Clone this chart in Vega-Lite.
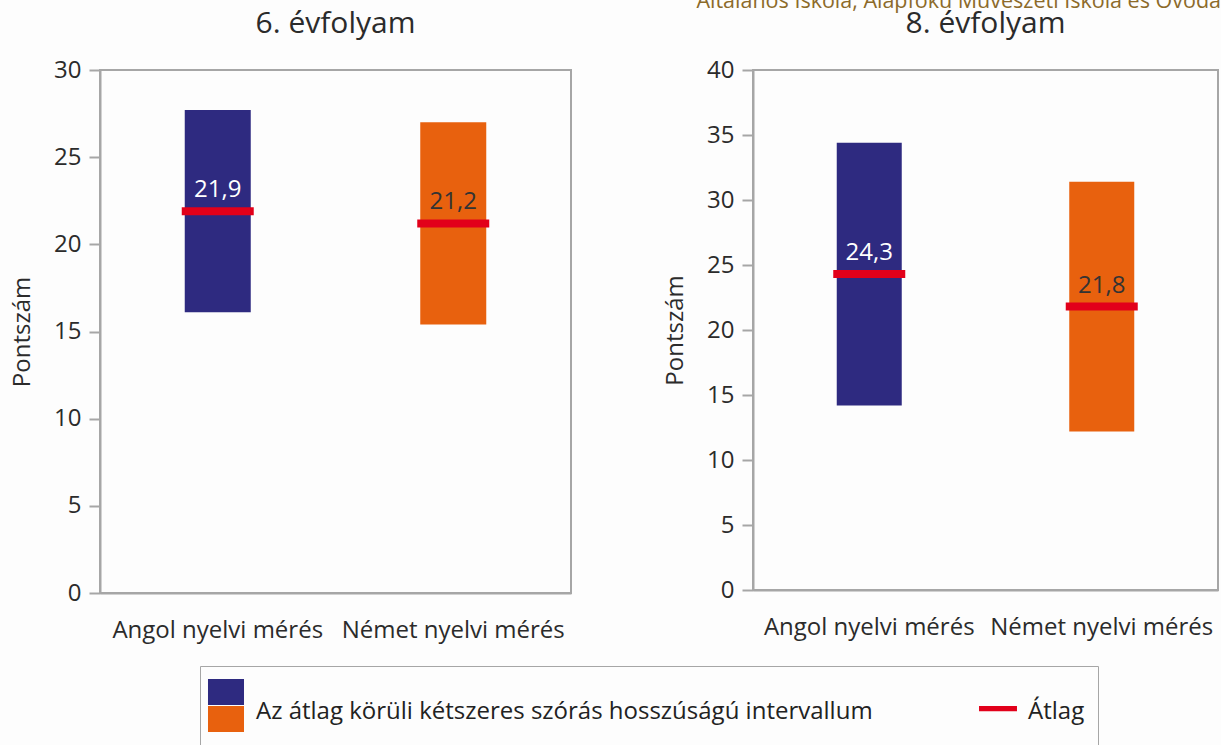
{
  "$schema": "https://vega.github.io/schema/vega-lite/v6.json",
  "background": "#fdfdfd",
  "padding": {"left": 9, "top": -10, "right": 0, "bottom": 0},
  "bounds": "flush",
  "spacing": 182,
  "title": {
    "text": "Általános Iskola, Alapfokú Művészeti Iskola és Óvoda",
    "anchor": "end",
    "fontSize": 21.5,
    "dx": 2,
    "color": "#8c6a2a",
    "offset": -4
  },
  "datasets": {
    "g6": [
      {"lang": "Angol nyelvi mérés", "low": 16.1, "high": 27.7, "mean": 21.9},
      {"lang": "Német nyelvi mérés", "low": 15.4, "high": 27.0, "mean": 21.2}
    ],
    "g8": [
      {"lang": "Angol nyelvi mérés", "low": 14.2, "high": 34.4, "mean": 24.3},
      {"lang": "Német nyelvi mérés", "low": 12.2, "high": 31.4, "mean": 21.8}
    ]
  },
  "hconcat": [
    {
      "width": 471,
      "height": 523,
      "title": {"text": "6. évfolyam"},
      "data": {"name": "g6"},
      "encoding": {
        "x": {"field": "lang", "type": "nominal", "title": null,
              "scale": {"domain": ["Angol nyelvi mérés", "Német nyelvi mérés"]}}
      },
      "layer": [
        {
          "mark": {"type": "bar", "size": 66},
          "encoding": {
            "y": {"field": "low", "type": "quantitative", "title": "Pontszám",
                  "scale": {"domain": [0, 30]}, "axis": {"values": [0, 5, 10, 15, 20, 25, 30]}},
            "y2": {"field": "high"},
            "color": {
              "field": "lang", "type": "nominal",
              "scale": {"domain": ["Angol nyelvi mérés", "Német nyelvi mérés", "_", "Átlag"],
                        "range": ["#2e2a80", "#e8610e", "transparent", "#e2001a"]},
              "legend": {
                "orient": "none", "legendX": 100, "legendY": 596, "title": null,
                "columns": 2, "rowPadding": -5, "columnPadding": 106,
                "symbolType": {"expr": "datum.value === 'Átlag' ? 'M-1.46,-1H1.46V-0.6H-1.46Z' : 'M-1.385,-1H1.385V1H-1.385Z'"},
                "symbolSize": 676, "symbolStrokeWidth": 0, "symbolOpacity": 1,
                "labelFontSize": 24, "labelColor": "#222222", "labelLimit": 1000, "labelOffset": 17,
                "labelBaseline": "alphabetic",
                "labelExpr": "datum.value === 'Német nyelvi mérés' ? 'Az átlag körüli kétszeres szórás hosszúságú intervallum' : datum.value === 'Átlag' ? 'Átlag' : ''",
                "strokeColor": "#a6a6a6", "padding": 13, "fillColor": "#fdfdfd"
              }
            }
          }
        },
        {
          "mark": {"type": "tick", "thickness": 8, "size": 72, "opacity": 1},
          "encoding": {
            "y": {"field": "mean", "type": "quantitative", "title": "Pontszám"},
            "color": {"datum": "Átlag"}
          }
        },
        {
          "mark": {"type": "text", "baseline": "alphabetic", "dy": -14, "fontSize": 24},
          "encoding": {
            "y": {"field": "mean", "type": "quantitative", "title": "Pontszám"},
            "text": {"field": "mean", "type": "quantitative", "format": ".1f"},
            "color": {"condition": {"test": "datum.lang === 'Angol nyelvi mérés'", "value": "#ffffff"}, "value": "#333333"}
          }
        }
      ]
    },
    {
      "width": 465,
      "height": 520,
      "title": {"text": "8. évfolyam"},
      "data": {"name": "g8"},
      "encoding": {
        "x": {"field": "lang", "type": "nominal", "title": null,
              "scale": {"domain": ["Angol nyelvi mérés", "Német nyelvi mérés"]}}
      },
      "layer": [
        {
          "mark": {"type": "bar", "size": 65},
          "encoding": {
            "y": {"field": "low", "type": "quantitative", "title": "Pontszám",
                  "scale": {"domain": [0, 40]}, "axis": {"values": [0, 5, 10, 15, 20, 25, 30, 35, 40]}},
            "y2": {"field": "high"},
            "color": {
              "field": "lang", "type": "nominal",
              "scale": {"domain": ["Angol nyelvi mérés", "Német nyelvi mérés", "_", "Átlag"],
                        "range": ["#2e2a80", "#e8610e", "transparent", "#e2001a"]}
            }
          }
        },
        {
          "mark": {"type": "tick", "thickness": 8, "size": 72, "opacity": 1},
          "encoding": {
            "y": {"field": "mean", "type": "quantitative", "title": "Pontszám"},
            "color": {"datum": "Átlag"}
          }
        },
        {
          "mark": {"type": "text", "baseline": "alphabetic", "dy": -14, "fontSize": 24},
          "encoding": {
            "y": {"field": "mean", "type": "quantitative", "title": "Pontszám"},
            "text": {"field": "mean", "type": "quantitative", "format": ".1f"},
            "color": {"condition": {"test": "datum.lang === 'Angol nyelvi mérés'", "value": "#ffffff"}, "value": "#333333"}
          }
        }
      ]
    }
  ],
  "config": {
    "font": "Open Sans",
    "locale": {"number": {"decimal": ",", "thousands": " ", "grouping": [3], "currency": ["", " Ft"]}},
    "view": {"stroke": "#a6a6a6", "strokeWidth": 2},
    "axis": {
      "domainColor": "#a6a6a6", "domainWidth": 2, "tickColor": "#a6a6a6", "tickWidth": 2,
      "labelFont": "Open Sans", "labelFontSize": 24, "labelColor": "#2b2b2b", "labelLimit": 400,
      "titleFont": "Open Sans", "titleFontSize": 24, "titleFontWeight": "normal", "titleColor": "#2b2b2b",
      "grid": false
    },
    "axisX": {"ticks": false, "tickSize": 0, "labelPadding": 25, "labelAngle": 0},
    "axisY": {"tickSize": 11, "labelPadding": 8, "titlePadding": 19},
    "title": {"font": "Open Sans", "fontSize": 30, "fontWeight": "normal", "color": "#2b2b2b", "offset": 19},
    "legend": {"labelFont": "Open Sans"}
  }
}
